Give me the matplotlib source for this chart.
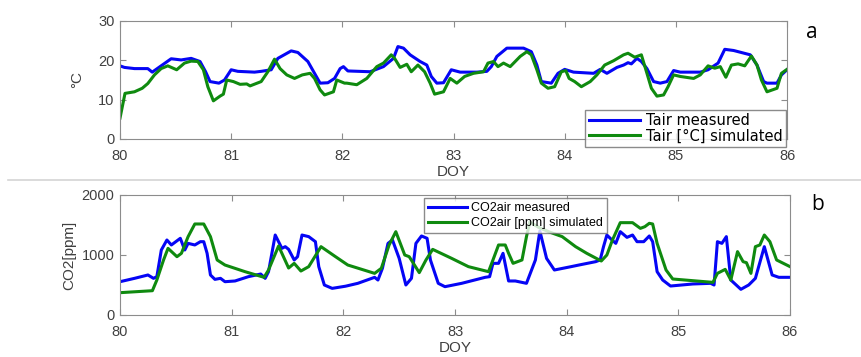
import numpy as np
import matplotlib
matplotlib.use("Agg")
import matplotlib.pyplot as plt
from matplotlib.lines import Line2D

plt.rcParams["font.family"] = ["Liberation Sans", "DejaVu Sans"]

# ── Panel a: air temperature [°C] ────────────────────────────────────────────
tair_meas_doy = [80.00, 80.04, 80.13, 80.25, 80.29, 80.36, 80.46, 80.55, 80.64, 80.72,
                 80.77, 80.81, 80.89, 80.94, 81.00, 81.06, 81.21, 81.27, 81.36, 81.42,
                 81.54, 81.60, 81.69, 81.75, 81.80, 81.87, 81.93, 81.98, 82.01, 82.05,
                 82.25, 82.37, 82.46, 82.50, 82.55, 82.61, 82.70, 82.76, 82.80, 82.85,
                 82.91, 82.98, 83.06, 83.21, 83.30, 83.34, 83.39, 83.48, 83.63, 83.70,
                 83.75, 83.79, 83.88, 83.94, 84.00, 84.08, 84.26, 84.32, 84.38, 84.47,
                 84.53, 84.57, 84.60, 84.65, 84.69, 84.74, 84.80, 84.86, 84.92, 84.98,
                 85.04, 85.22, 85.29, 85.38, 85.44, 85.52, 85.67, 85.73, 85.79, 85.82,
                 85.91, 85.95, 86.00]
tair_meas = [18.6, 18.2, 17.9, 17.9, 17.0, 18.4, 20.4, 20.1, 20.5, 19.7,
             17.1, 14.6, 14.2, 15.0, 17.6, 17.2, 17.0, 17.2, 17.6, 20.5,
             22.4, 22.0, 19.7, 16.7, 14.2, 14.3, 15.4, 17.9, 18.4, 17.3,
             17.1, 18.4, 20.5, 23.5, 23.1, 21.4, 19.7, 18.8, 15.9, 14.2,
             14.3, 17.6, 17.0, 17.0, 17.2, 18.4, 21.0, 23.1, 23.1, 22.2,
             18.8, 14.6, 14.2, 16.7, 17.7, 17.0, 16.7, 17.7, 16.7, 18.2,
             18.8, 19.4, 19.1, 20.5, 19.7, 17.9, 14.6, 14.2, 14.6, 17.4,
             17.0, 17.0, 17.6, 19.3, 22.8, 22.5, 21.4, 18.8, 14.6, 14.2,
             14.2, 16.3, 17.6]

tair_sim_doy = [80.00, 80.045, 80.13, 80.20, 80.25, 80.31, 80.37, 80.43, 80.51, 80.58,
                80.64, 80.70, 80.75, 80.79, 80.84, 80.90, 80.93, 80.96, 81.02, 81.08,
                81.14, 81.17, 81.27, 81.33, 81.39, 81.44, 81.50, 81.57, 81.64, 81.71,
                81.75, 81.80, 81.84, 81.92, 81.95, 82.02, 82.04, 82.13, 82.22, 82.31,
                82.37, 82.44, 82.47, 82.52, 82.58, 82.62, 82.68, 82.74, 82.79, 82.83,
                82.91, 82.97, 83.03, 83.10, 83.18, 83.27, 83.31, 83.36, 83.40, 83.45,
                83.51, 83.60, 83.66, 83.70, 83.75, 83.79, 83.85, 83.91, 83.97, 84.01,
                84.04, 84.09, 84.15, 84.23, 84.29, 84.36, 84.44, 84.53, 84.57, 84.63,
                84.69, 84.74, 84.78, 84.83, 84.89, 84.93, 84.98, 85.04, 85.16, 85.22,
                85.29, 85.35, 85.40, 85.45, 85.50, 85.56, 85.62, 85.68, 85.73, 85.77,
                85.82, 85.91, 85.95, 86.00]
tair_sim = [5.3, 11.6, 12.0, 12.9, 14.1, 16.3, 17.9, 18.6, 17.6, 19.3,
            19.8, 19.7, 17.6, 13.3, 9.7, 10.9, 11.4, 15.0, 14.6, 13.9,
            14.0, 13.5, 14.6, 17.1, 20.3, 17.9, 16.3, 15.4, 16.3, 16.7,
            15.4, 12.5, 11.2, 12.0, 15.0, 14.2, 14.2, 13.8, 15.4, 18.4,
            19.3, 21.4, 20.5, 18.2, 19.0, 17.1, 18.8, 17.1, 14.2, 11.4,
            12.0, 15.4, 14.2, 15.9, 16.7, 17.1, 19.3, 19.7, 18.4, 19.3,
            18.4, 21.0, 22.2, 21.4, 17.6, 14.2, 12.9, 13.3, 17.1, 17.4,
            15.4, 14.6, 13.3, 14.6, 16.3, 18.8, 19.9, 21.4, 21.8, 20.8,
            21.4, 16.7, 12.9, 10.9, 11.2, 13.3, 16.3, 15.9, 15.4, 16.3,
            18.6, 18.0, 18.4, 15.7, 18.8, 19.1, 18.6, 21.1, 18.8, 15.0,
            12.0, 12.9, 16.7, 17.7]

# ── Panel b: CO2 concentration [ppm] ─────────────────────────────────────────
co2_meas_doy = [80.00, 80.13, 80.25, 80.30, 80.33, 80.37, 80.42, 80.46, 80.54, 80.58,
                80.61, 80.67, 80.72, 80.75, 80.78, 80.81, 80.85, 80.90, 80.94, 81.03,
                81.15, 81.26, 81.30, 81.33, 81.39, 81.45, 81.48, 81.51, 81.56, 81.59,
                81.63, 81.69, 81.75, 81.78, 81.83, 81.90, 82.02, 82.13, 82.28, 82.31,
                82.35, 82.40, 82.44, 82.50, 82.56, 82.61, 82.65, 82.70, 82.75, 82.78,
                82.85, 82.91, 83.06, 83.27, 83.31, 83.34, 83.39, 83.43, 83.48, 83.54,
                83.64, 83.72, 83.76, 83.82, 83.89, 84.04, 84.11, 84.26, 84.30, 84.33,
                84.36, 84.39, 84.44, 84.48, 84.54, 84.59, 84.63, 84.69, 84.74, 84.77,
                84.81, 84.86, 84.93, 85.13, 85.29, 85.32, 85.35, 85.39, 85.43, 85.47,
                85.56, 85.63, 85.69, 85.77, 85.84, 85.90, 86.00]
co2_meas = [555, 611, 667, 611, 639, 1083, 1250, 1167, 1278, 1083,
            1194, 1167, 1222, 1222, 1028, 667, 594, 611, 555, 567,
            639, 683, 611, 722, 1333, 1111, 1139, 1094, 917, 972,
            1333, 1306, 1222, 806, 500, 444, 480, 528, 628, 583,
            778, 1194, 1250, 944, 500, 611, 1194, 1317, 1278, 917,
            528, 472, 528, 628, 639, 861, 861, 1028, 567, 567,
            528, 917, 1400, 944, 750, 806, 833, 889, 917, 1139,
            1333, 1278, 1194, 1389, 1294, 1333, 1222, 1222, 1317, 1222,
            722, 583, 483, 517, 528, 500, 1222, 1194, 1306, 583,
            428, 500, 611, 1139, 667, 628, 628]

co2_sim_doy = [80.00, 80.29, 80.33, 80.39, 80.43, 80.51, 80.55, 80.61, 80.67, 80.75,
               80.81, 80.87, 80.94, 81.12, 81.29, 81.33, 81.42, 81.51, 81.56, 81.62,
               81.69, 81.80, 81.93, 82.04, 82.28, 82.34, 82.41, 82.47, 82.55, 82.59,
               82.68, 82.74, 82.80, 82.97, 83.12, 83.30, 83.34, 83.39, 83.45, 83.48,
               83.52, 83.60, 83.64, 83.67, 83.75, 83.85, 83.96, 84.08, 84.18, 84.31,
               84.36, 84.41, 84.48, 84.59, 84.66, 84.70, 84.74, 84.77, 84.81, 84.89,
               84.95, 85.31, 85.35, 85.42, 85.47, 85.53, 85.58, 85.61, 85.65, 85.69,
               85.73, 85.77, 85.82, 85.88, 86.00]
co2_sim = [372, 405, 583, 917, 1111, 972, 1028, 1306, 1517, 1517,
           1306, 917, 833, 722, 628, 750, 1150, 783, 861, 733,
           806, 1139, 972, 833, 694, 778, 1167, 1389, 1000, 972,
           706, 917, 1094, 944, 806, 722, 917, 1167, 1167, 1028,
           861, 917, 1306, 1550, 1460, 1380, 1306, 1139, 1028, 900,
           1000, 1250, 1539, 1539, 1444, 1472, 1528, 1517, 1194, 750,
           600, 544, 694, 761, 583, 1056, 889, 872, 694, 1139,
           1167, 1333, 1222, 917, 806]

BLUE = "#0505f5"
GREEN = "#0f8a0f"
GRAY = "#404040"


def style(ax):
    for s in ax.spines.values():
        s.set_color("#8c8c8c")
        s.set_linewidth(0.8)
    ax.tick_params(direction="in", top=True, right=True, length=4,
                   color="#8c8c8c", labelcolor=GRAY, labelsize=10.5)
    ax.tick_params(axis="x", pad=7)
    ax.tick_params(axis="y", pad=4)
    ax.set_xlim(80, 86)
    ax.set_xticks(range(80, 87))


fig = plt.figure(figsize=(8.61, 3.57), dpi=100)

ax1 = fig.add_axes([120 / 861, 1 - 139 / 357, 667 / 861, 118 / 357])
ax1.plot(tair_meas_doy, tair_meas, color=BLUE, lw=2.2)
ax1.plot(tair_sim_doy, tair_sim, color=GREEN, lw=2.2)
style(ax1)
ax1.set_ylim(0, 30)
ax1.set_yticks([0, 10, 20, 30])
ax1.set_ylabel("°C", color=GRAY, fontsize=11, labelpad=10)
ax1.set_xlabel("DOY", color=GRAY, fontsize=11, labelpad=2)

ax2 = fig.add_axes([120 / 861, 1 - 315 / 357, 670 / 861, 120 / 357])
ax2.plot(co2_meas_doy, co2_meas, color=BLUE, lw=2.2)
ax2.plot(co2_sim_doy, co2_sim, color=GREEN, lw=2.2)
style(ax2)
ax2.set_ylim(0, 2000)
ax2.set_yticks([0, 1000, 2000])
ax2.set_ylabel("CO2[ppm]", color=GRAY, fontsize=11, labelpad=4)
ax2.set_xlabel("DOY", color=GRAY, fontsize=11, labelpad=2)

# legends (MATLAB-like boxes)
h1 = [Line2D([], [], color=BLUE, lw=2.2), Line2D([], [], color=GREEN, lw=2.2)]
leg1 = fig.legend(h1, ["Tair measured", "Tair [°C] simulated"], loc="lower right",
                  bbox_to_anchor=(786 / 861, 1 - 147 / 357),
                  prop={"family": "DejaVu Sans", "size": 10.5},
                  frameon=True, fancybox=False, handlelength=3.5, handletextpad=0.4,
                  borderpad=0.25, labelspacing=0.0, borderaxespad=0)
leg1.get_frame().set_edgecolor("#6e6e6e")
leg1.get_frame().set_linewidth(1.0)

leg2 = fig.legend(h1, ["CO2air measured", "CO2air [ppm] simulated"], loc="upper left",
                  bbox_to_anchor=(424 / 861, 1 - 198 / 357), fontsize=9,
                  frameon=True, fancybox=False, handlelength=3.1, handletextpad=0.3,
                  borderpad=0.35, labelspacing=0.2, borderaxespad=0)
leg2.get_frame().set_edgecolor("#6e6e6e")
leg2.get_frame().set_linewidth(1.0)

# panel letters and separator line
fig.text(812 / 861, 1 - 33 / 357, "a", fontsize=15, family=["Open Sans", "DejaVu Sans"],
         ha="center", va="center")
fig.text(818 / 861, 1 - 205 / 357, "b", fontsize=15, family=["Open Sans", "DejaVu Sans"],
         ha="center", va="center")
fig.add_artist(Line2D([8 / 861, 1], [1 - 179.5 / 357] * 2, color="#d4d4d4", lw=1.2,
                      transform=fig.transFigure))

fig.savefig("out.png", dpi=100)
plt.close(fig)
